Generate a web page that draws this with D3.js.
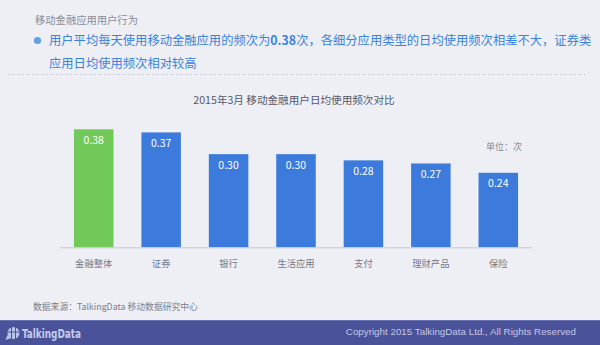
<!DOCTYPE html>
<html>
<head>
<meta charset="utf-8">
<script src="https://cdn.jsdelivr.net/npm/d3@7/dist/d3.min.js"></script>
<style>
  html, body { margin: 0; padding: 0; background: #eeeff5; }
  svg { display: block; font-family: "Noto Sans CJK SC", "Noto Sans", sans-serif; }
</style>
</head>
<body>
<svg id="chart" width="600" height="345"></svg>
<script>
// Daily usage frequency by app type, March 2015
const categories = ["金融整体", "证券", "银行", "生活应用", "支付", "理财产品", "保险"];
const values = [0.38, 0.37, 0.30, 0.30, 0.28, 0.27, 0.24];
const valueLabels = ["0.38", "0.37", "0.30", "0.30", "0.28", "0.27", "0.24"];
const highlightIndex = 0;

const svg = d3.select("#chart");
const W = 600, H = 345;

svg.append("rect").attr("width", W).attr("height", H).attr("fill", "#eeeff5");

// ---- page header ----
svg.append("text")
  .attr("x", 35).attr("y", 20).attr("dy", "0.35em")
  .attr("font-size", 10.3).attr("fill", "#8a8c96")
  .text("移动金融应用用户行为");

svg.append("circle").attr("cx", 37.5).attr("cy", 40.5).attr("r", 3.6).attr("fill", "#5ea2e0");

const headline = svg.append("text")
  .attr("x", 49).attr("y", 40.7).attr("dy", "0.35em")
  .attr("font-size", 12.3).attr("fill", "#3a82dc");
headline.append("tspan").text("用户平均每天使用移动金融应用的频次为");
headline.append("tspan").attr("font-weight", "bold").text("0.38");
headline.append("tspan").text("次，各细分应用类型的日均使用频次相差不大，证券类");

svg.append("text")
  .attr("x", 49).attr("y", 63.5).attr("dy", "0.35em")
  .attr("font-size", 12.3).attr("fill", "#3a82dc")
  .text("应用日均使用频次相对较高");

svg.append("line")
  .attr("x1", 8).attr("x2", 585).attr("y1", 74.5).attr("y2", 74.5)
  .attr("stroke", "#b8bcca").attr("stroke-width", 1)
  .attr("stroke-dasharray", "1,2");

// ---- chart ----
svg.append("text")
  .attr("x", 294).attr("y", 100).attr("dy", "0.35em")
  .attr("text-anchor", "middle")
  .attr("font-size", 10.6).attr("fill", "#555866")
  .text("2015年3月 移动金融用户日均使用频次对比");

svg.append("text")
  .attr("x", 504).attr("y", 147).attr("dy", "0.35em")
  .attr("text-anchor", "middle")
  .attr("font-size", 9).attr("fill", "#888a96")
  .text("单位：次");

const x = d3.scaleBand()
  .domain(categories)
  .range([60, 532])
  .paddingInner(0.414)
  .paddingOuter(0.207);

const y = d3.scaleLinear()
  .domain([0, 0.4])
  .range([247.3, 123.1]);

const data = categories.map((c, i) => ({ c, v: values[i], label: valueLabels[i], i }));

svg.append("g").selectAll("rect")
  .data(data)
  .join("rect")
  .attr("x", d => x(d.c))
  .attr("width", x.bandwidth())
  .attr("y", d => y(d.v))
  .attr("height", d => y(0) - y(d.v))
  .attr("fill", d => d.i === highlightIndex ? "#71c95a" : "#3c7bdb");

svg.append("g").selectAll("text")
  .data(data)
  .join("text")
  .attr("x", d => x(d.c) + x.bandwidth() / 2)
  .attr("y", d => y(d.v) + 11)
  .attr("dy", "0.35em")
  .attr("text-anchor", "middle")
  .attr("font-size", 10.5).attr("font-weight", 400)
  .attr("fill", "#ffffff")
  .text(d => d.label);

// category axis
const xAxis = svg.append("g")
  .attr("transform", `translate(0,${y(0)})`)
  .call(d3.axisBottom(x).tickSize(0).tickPadding(13));
xAxis.select(".domain").attr("stroke", "#c6c9d8").attr("d", "M60,0.5H532");
xAxis.selectAll("text")
  .style("font-family", "\"Noto Sans CJK SC\", sans-serif")
  .attr("font-size", 9.3).attr("fill", "#767886");

// ---- footer ----
svg.append("text")
  .attr("x", 33).attr("y", 306.5).attr("dy", "0.35em")
  .attr("font-size", 8.8).attr("fill", "#7c7e8a")
  .text("数据来源：TalkingData 移动数据研究中心");

svg.append("rect").attr("x", 0).attr("y", 320).attr("width", W).attr("height", 25).attr("fill", "#4a539a");
svg.append("rect").attr("x", 0).attr("y", 320).attr("width", W).attr("height", 1).attr("fill", "#6a72b4");

// logo mark
const logo = svg.append("g").attr("transform", "translate(13.5,333)").attr("fill", "#b9c3ec");
logo.append("circle").attr("r", 6);
logo.append("path").attr("d", "M-6,2 L-8,7 L-2,5 Z");
logo.append("path").attr("d", "M-6,-1 L6,-1 M-2,-6 L-2,6 M2,-6 L2,6")
  .attr("stroke", "#4a539a").attr("stroke-width", 1).attr("fill", "none");

svg.append("text")
  .attr("x", 22).attr("y", 333).attr("dy", "0.35em")
  .style("font-family", "\"Liberation Sans Narrow\", \"DejaVu Sans Condensed\", sans-serif")
  .attr("font-weight", "bold").attr("font-size", 13)
  .attr("fill", "#c4cbee")
  .attr("textLength", 59).attr("lengthAdjust", "spacingAndGlyphs")
  .text("TalkingData");

svg.append("text")
  .attr("x", 576).attr("y", 332).attr("dy", "0.35em")
  .attr("text-anchor", "end")
  .style("font-family", "\"Liberation Sans\", Arial, sans-serif")
  .attr("font-size", 9.8).attr("fill", "#c3c7e6")
  .text("Copyright 2015 TalkingData Ltd., All Rights Reserved");
</script>
</body>
</html>
